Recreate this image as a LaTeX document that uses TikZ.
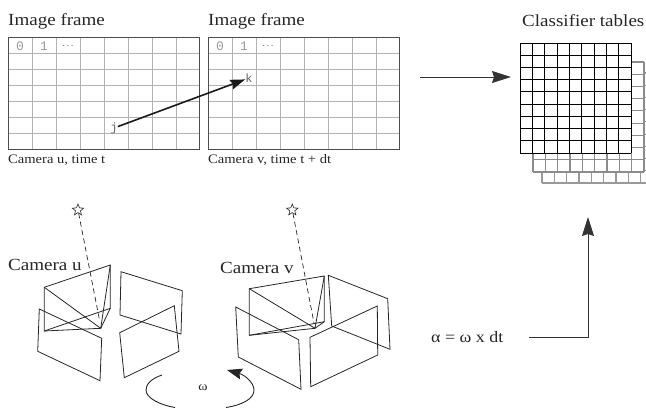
\documentclass[tikz,border=0pt]{standalone}
\usepackage{fontspec}
\setmainfont[FakeStretch=1.12]{Liberation Serif}
\setmonofont{Liberation Mono}
\usetikzlibrary{arrows.meta,shapes.geometric}

\begin{document}
\begin{tikzpicture}[
  x=1pt, y=-1pt,
  title/.style={anchor=west, inner sep=0pt, font=\fontsize{17}{20}\selectfont, text=black!85},
  caption/.style={anchor=west, inner sep=0pt, font=\fontsize{13}{15}\selectfont, text=black!85},
  cell/.style={inner sep=0pt, font=\ttfamily\fontsize{13}{15}\selectfont, text=black!40},
  frame/.style={draw=black!70, line width=0.9pt, minimum width=191pt, minimum height=112pt, inner sep=0pt, anchor=north west},
  gridline/.style={draw=black!30, line width=0.9pt},
  panel/.style={draw=black!85, line width=0.8pt, line join=miter},
  sight/.style={draw=black!85, line width=0.7pt, dash pattern=on 5pt off 3.5pt},
  starmark/.style={draw=black!85, line width=0.6pt, star, star points=5, star point ratio=2.3, minimum size=12pt, inner sep=0pt},
  arrow/.style={-{Stealth[length=19pt, width=12pt, inset=2pt]}, line width=0.9pt, draw=black!80},
  motion/.style={-{Stealth[length=15pt, width=10pt, inset=2pt]}, line width=1.6pt, draw=black!90}]
  \clip (0,0) rectangle (646,408);

  % image frames
  \foreach \name/\fx in {frameu/8, framev/208} {
    \foreach \i in {1,...,7} \draw[gridline] (\fx+24*\i,37) -- (\fx+24*\i,149);
    \foreach \i in {1,...,6} \draw[gridline] (\fx,37+16*\i) -- (\fx+191,37+16*\i);
    \node[frame] (\name) at (\fx,37) {};
    \node[cell] (\name zero) at (\fx+12,46) {0};
    \node[cell] (\name one) at (\fx+36,46) {1};
    \node[cell, text=black!55, font=\ttfamily\bfseries\fontsize{7}{9}\selectfont] (\name dots) at (\fx+60,46) {...};
  }
  \node[title] (titleu) at (8,21) {Image frame};
  \node[title] (titlev) at (208,21) {Image frame};
  \node[caption] (capu) at (8,160) {Camera u, time t};
  \node[caption] (capv) at (208,160) {Camera v, time t + dt};
  \node[cell, text=black!60, font=\ttfamily\fontsize{12}{14}\selectfont] (cellj) at (114,128) {j};
  \node[cell, text=black!60, font=\ttfamily\fontsize{12}{14}\selectfont] (cellk) at (249,78) {k};
  \draw[motion] (cellj) -- (cellk);

  % classifier tables
  \node[title] (titletab) at (522,21) {Classifier tables};
  \foreach \name/\tx/\ty/\col/\lw in {tabc/542/73/black!40/1.1pt, tabb/533/62/black!45/1.2pt, taba/520/43/black/0.9pt} {
    \fill[white] (\tx,\ty) rectangle (\tx+111,\ty+110);
    \foreach \i in {0,...,9} {
      \draw[draw=\col, line width=\lw] (\tx+12.33*\i,\ty) -- (\tx+12.33*\i,\ty+110);
      \draw[draw=\col, line width=\lw] (\tx,\ty+12.22*\i) -- (\tx+111,\ty+12.22*\i);
    }
    \coordinate (\name) at (\tx,\ty);
  }

  \coordinate (flowtail) at (420,77);
  \coordinate (flowtip) at (511,77);
  \draw[arrow] (flowtail) -- (flowtip);

  % camera u
  \draw[panel] (44.3,287.3) -- (110.3,265) -- (110.3,308.3) -- (44.3,331) -- cycle;
  \draw[panel] (44.3,287.3) -- (100.7,328.3) -- (110.3,265);
  \draw[panel] (44.3,331) -- (100.7,328.3) -- (110.3,308.3);
  \draw[panel] (39.3,309) -- (101.7,338.3) -- (100,380.7) -- (37.7,351.3) -- cycle;
  \draw[panel] (121,271.7) -- (182.3,290.7) -- (181,334) -- (120,315) -- cycle;
  \draw[panel] (174.3,305.7) -- (179,351.3) -- (124.3,377.7) -- (119.7,332.7) -- cycle;
  \node[starmark] (staru) at (78,210) {};
  \coordinate (focusu) at (99.5,320);
  \draw[sight] (staru) -- (focusu);
  \node[title] (labelu) at (8,265) {Camera u};

  % camera v
  \draw[panel] (249.3,288.7) -- (324.3,276) -- (324.3,321.7) -- (249.3,335.3) -- cycle;
  \draw[panel] (249.3,288.7) -- (315,328.3) -- (324.3,276);
  \draw[panel] (249.3,335.3) -- (315,328.3) -- (324.3,321.7);
  \draw[panel] (235.7,307) -- (298.7,339.7) -- (301,389.3) -- (238.3,357) -- cycle;
  \draw[panel] (328.3,275.3) -- (387.7,298.7) -- (390,349.3) -- (331.7,326) -- cycle;
  \draw[panel] (377.3,306) -- (377.7,355) -- (310.7,386.7) -- (310,337.3) -- cycle;
  \node[starmark] (starv) at (292.3,210) {};
  \coordinate (focusv) at (314,323);
  \draw[sight] (starv) -- (focusv);
  \node[title] (labelv) at (220,268) {Camera v};

  % rotation
  \coordinate (turnstart) at (162,375);
  \coordinate (turnend) at (227,370);
  \draw[line width=0.9pt, draw=black!85] (turnstart) .. controls (150,379) and (146,385) .. (146,390)
    .. controls (146,398) and (160,405) .. (175,407.5);
  \draw[-{Stealth[length=15pt, width=11pt, inset=2pt]}, line width=0.9pt, draw=black!85]
    (226,407.5) .. controls (242,405) and (254,399) .. (254,390)
    .. controls (254,383) and (245,375) .. (turnend);
  \node[inner sep=0pt, font=\fontsize{12.5}{15}\selectfont, text=black!85] (omega) at (203,388) {ω};

  % angle
  \node[anchor=west, inner sep=0pt, font=\fontsize{16}{19}\selectfont, text=black!85] (angle) at (431,337) {α = ω x dt};
  \coordinate (anglestart) at (529,337);
  \coordinate (angletip) at (588,217);
  \draw[arrow] (anglestart) -| (angletip);
\end{tikzpicture}
\end{document}
